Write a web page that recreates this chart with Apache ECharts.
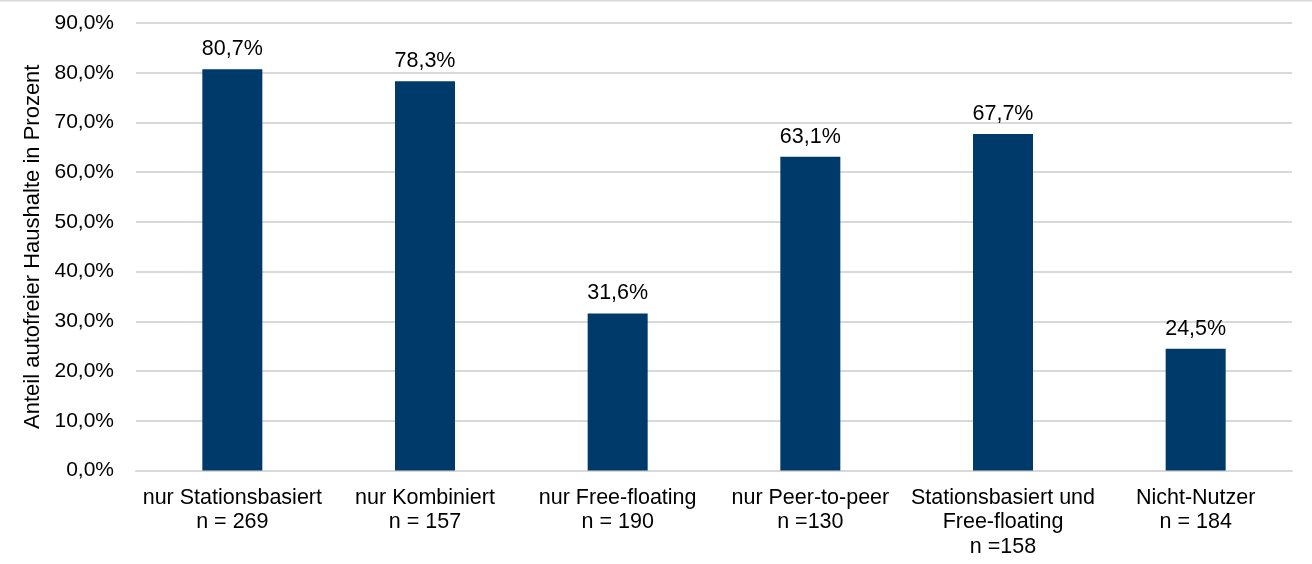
<!DOCTYPE html>
<html>
<head>
<meta charset="utf-8">
<script src="https://cdn.jsdelivr.net/npm/echarts@6/dist/echarts.min.js"></script>
<style>
html,body{margin:0;padding:0;background:#fff;}
#chart{width:1312px;height:564px;}
</style>
</head>
<body>
<div id="chart"></div>
<script>
const categories = [
  "nur Stationsbasiert\nn = 269",
  "nur Kombiniert\nn = 157",
  "nur Free-floating\nn = 190",
  "nur Peer-to-peer\nn =130",
  "Stationsbasiert und\nFree-floating\nn =158",
  "Nicht-Nutzer\nn = 184"
];
const values = [80.7, 78.3, 31.6, 63.1, 67.7, 24.5];
const yAxisTitle = "Anteil autofreier Haushalte in Prozent";

const fmt = v => v.toFixed(1).replace('.', ',') + '%';
const FONT = '"Liberation Sans", Arial, sans-serif';

const chart = echarts.init(document.getElementById('chart'), null, {renderer: 'canvas'});
chart.setOption({
  animation: false,
  backgroundColor: '#fff',
  textStyle: {fontFamily: FONT},
  graphic: [{
    type: 'line',
    shape: {x1: 0, y1: 0.75, x2: 1312, y2: 0.75},
    style: {stroke: '#d9d9d9', lineWidth: 1.5}
  }],
  grid: {left: 136, right: 20, top: 23, bottom: 93.5},
  xAxis: {
    type: 'category',
    data: categories,
    axisLine: {show: true, lineStyle: {color: '#d9d9d9', width: 2}},
    axisTick: {show: false},
    axisLabel: {
      interval: 0,
      color: '#000',
      fontSize: 21.5,
      lineHeight: 24.5,
      margin: 15,
      fontFamily: FONT
    }
  },
  yAxis: {
    type: 'value',
    min: 0,
    max: 90,
    interval: 10,
    name: yAxisTitle,
    nameLocation: 'middle',
    nameGap: 84,
    nameTextStyle: {color: '#000', fontSize: 22, fontFamily: FONT},
    axisLine: {show: false},
    axisTick: {show: false},
    splitLine: {lineStyle: {color: '#d9d9d9', width: 2}},
    axisLabel: {
      color: '#000',
      fontSize: 21,
      margin: 22,
      fontFamily: FONT,
      formatter: v => fmt(v)
    }
  },
  series: [{
    type: 'bar',
    data: values,
    barWidth: 60,
    itemStyle: {color: '#003a6b'},
    label: {
      show: true,
      position: 'top',
      distance: 9,
      color: '#000',
      fontSize: 21.5,
      fontFamily: FONT,
      formatter: p => fmt(p.value)
    }
  }]
});
</script>
</body>
</html>
